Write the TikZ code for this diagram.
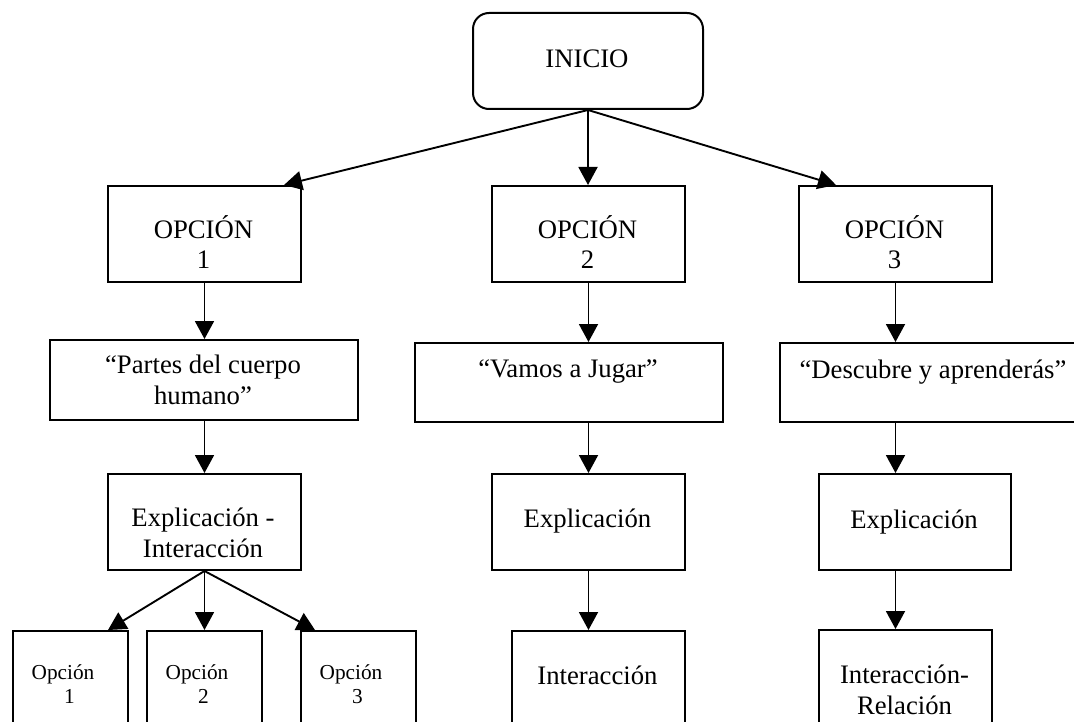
\documentclass[tikz,border=0pt]{standalone}
\usepackage{fontspec}
\setmainfont{Liberation Serif}
\usetikzlibrary{arrows.meta,calc}
\newcommand\bigtxt{\fontsize{26.7}{30.4}\selectfont}
\newcommand\smalltxt{\fontsize{21.3}{24}\selectfont}
\tikzset{
  boxs/.style={draw=black, line width=2pt, fill=white, rectangle, inner sep=0pt, anchor=north west},
  txt/.style={font=\bigtxt, align=center, inner sep=0pt, anchor=base},
  stxt/.style={font=\smalltxt, align=center, inner sep=0pt, anchor=base},
  conn/.style={line width=1.9pt, -{Triangle[length=18pt,width=19pt]}},
}
\begin{document}
\begin{tikzpicture}[x=1pt,y=-1pt]
\useasboundingbox (0,0) rectangle (1074,722);
\clip (0,0) rectangle (1074,722);
% boxes
\node[boxs, rounded corners=16pt, minimum width=230pt, minimum height=96pt] (inicio) at (472,12) {};
\node[boxs, minimum width=193pt, minimum height=96pt] (o1) at (107,185) {};
\node[boxs, minimum width=193pt, minimum height=96pt] (o2) at (491,185) {};
\node[boxs, minimum width=193pt, minimum height=96pt] (o3) at (798,185) {};
\node[boxs, minimum width=308pt, minimum height=80pt] (partes) at (49,339) {};
\node[boxs, minimum width=308pt, minimum height=79pt] (vamos) at (414,342) {};
\node[boxs, minimum width=308pt, minimum height=79pt] (desc) at (779,342) {};
\node[boxs, minimum width=193pt, minimum height=96pt] (ei1) at (107,473) {};
\node[boxs, minimum width=193pt, minimum height=96pt] (ex2) at (491,473) {};
\node[boxs, minimum width=192pt, minimum height=96pt] (ex3) at (818,473) {};
\node[boxs, minimum width=173pt, minimum height=110pt] (in2) at (511,630) {};
\node[boxs, minimum width=173pt, minimum height=110pt] (ir3) at (818,629) {};
\node[boxs, minimum width=115pt, minimum height=110pt] (s1) at (12,630) {};
\node[boxs, minimum width=115pt, minimum height=110pt] (s2) at (146,630) {};
\node[boxs, minimum width=115pt, minimum height=110pt] (s3) at (300,630) {};
% texts (anchor base = baseline of last line)
\node[txt] (tinicio) at (587,68) {INICIO};
\node[txt] (to1) at (203.5,269) {OPCIÓN\\1};
\node[txt] (to2) at (587.5,269) {OPCIÓN\\2};
\node[txt] (to3) at (894.5,269) {OPCIÓN\\3};
\node[txt] (tpartes) at (203,404) {“Partes del cuerpo\\humano”};
\node[txt] (tvamos) at (568,377) {“Vamos a Jugar”};
\node[txt] (tdesc) at (933,378) {“Descubre y aprenderás”};
\node[txt] (tei1) at (203,557) {Explicación -\\Interacción};
\node[txt] (tex2) at (587.5,527) {Explicación};
\node[txt] (tex3) at (914,528) {Explicación};
\node[txt] (tin2) at (597.5,684) {Interacción};
\node[txt] (tir3) at (904.5,714) {Interacción-\\Relación};
\node[stxt] (ts1) at (69.5,703) {Opción\hspace*{13pt}\\1};
\node[stxt] (ts2) at (203.5,703) {Opción\hspace*{13pt}\\2};
\node[stxt] (ts3) at (357.5,703) {Opción\hspace*{13pt}\\3};
% connectors
\draw[conn] (inicio.south) -- ($(o1.north east)+(-18,0)$);
\draw[conn] (inicio.south) -- (o2.north -| inicio.south);
\draw[conn] (inicio.south) -- ($(o3.north west)+(38,0)$);
\draw[conn] (o1.south) -- (partes.north -| o1.south);
\draw[conn] (partes.south -| o1.south) -- (ei1.north);
\draw[conn] (ei1.south) -- ($(s1.north west)+(96,0)$);
\draw[conn] (ei1.south) -- (s2.north -| ei1.south);
\draw[conn] (ei1.south) -- ($(s3.north west)+(15,0)$);
\draw[conn] (o2.south) -- (vamos.north -| o2.south);
\draw[conn] (vamos.south -| o2.south) -- (ex2.north);
\draw[conn] (ex2.south) -- (in2.north -| ex2.south);
\draw[conn] (o3.south) -- (desc.north -| o3.south);
\draw[conn] (desc.south -| o3.south) -- (ex3.north -| o3.south);
\draw[conn] (ex3.south -| o3.south) -- (ir3.north -| o3.south);
\end{tikzpicture}
\end{document}
